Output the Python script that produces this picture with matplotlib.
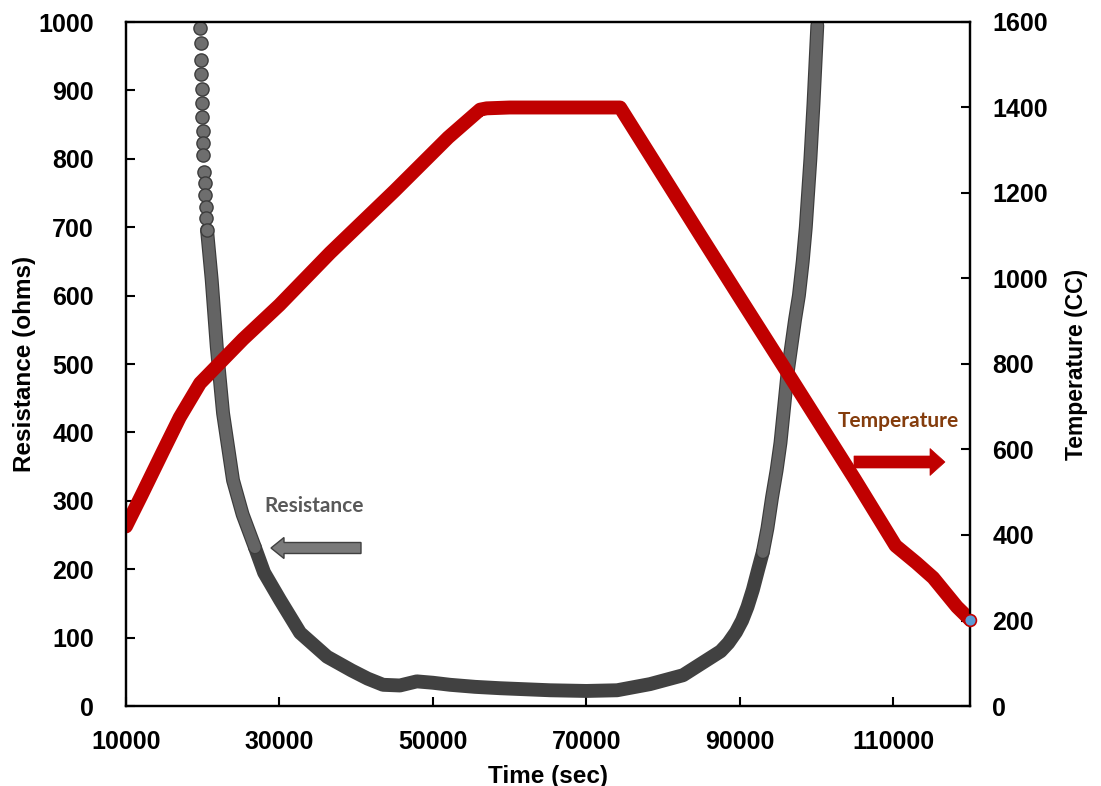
import numpy as np
import matplotlib
matplotlib.use('Agg')
import matplotlib.pyplot as plt
import matplotlib.patheffects as pe
from matplotlib.patches import FancyArrow

# Resistance readings (time in s, resistance in ohms)
res_time = [19690, 19740, 19780, 19820, 19870, 19910, 19950, 20000, 20040, 20080,
            20170, 20235, 20300, 20390, 20470, 20560, 21170, 21830, 22650, 23950,
            25200, 26800, 28000, 30080, 32690, 36210, 39400, 41500, 43500, 45700,
            47900, 50000, 52240, 55500, 58760, 65280, 70000, 74000, 78300, 82600,
            86100, 87500, 88500, 89500, 90300, 91000, 91700, 92400, 93000, 93600,
            94200, 94800, 95300, 95800, 96200, 96700, 97200, 97700, 98200, 98600,
            99200, 99600, 100100]
res_ohms = [991, 969, 944, 924, 902, 882, 861, 841, 823, 806,
            781, 765, 747, 730, 713, 696, 623, 525, 428, 330,
            280, 232, 195, 155, 107, 72, 52, 40, 31, 30,
            36, 34, 31, 28, 26, 23, 22, 23, 32, 45,
            70, 80, 92, 108, 125, 145, 170, 200, 225, 260,
            305, 345, 385, 440, 485, 525, 565, 600, 650, 700,
            800, 880, 995]

# Temperature readings (time in s, temperature in C)
temp_time = [10000, 12000, 14800, 17000, 19650, 25250, 30000, 36600, 45000, 52000,
             56150, 57000, 60000, 65000, 70000, 74400, 80000, 85000, 90000, 96200,
             100000, 105000, 110300, 113000, 115200, 118300, 120000]
temp_c = [420, 492, 595, 675, 755, 858, 938, 1060, 1205, 1330,
          1395, 1398, 1400, 1400, 1400, 1400, 1240, 1097, 955, 780,
          672, 530, 375, 335, 300, 232, 202]

x_ticks = [10000, 30000, 50000, 70000, 90000, 110000]

W, H = 1101, 786
fig = plt.figure(figsize=(W / 100, H / 100), dpi=100)
ax = fig.add_axes([126 / W, 1 - 706 / H, (970 - 126) / W, (706 - 22) / H])
ax2 = ax.twinx()

tick_font = {'family': 'Liberation Sans', 'weight': 'bold', 'size': 18}

res_time = np.array(res_time)
res_ohms = np.array(res_ohms)
n_sparse = 15            # first readings are single, well separated markers
left = res_time < 60000
gray_part = res_ohms >= 225

# band of overlapping gray circles (upper parts of both branches)
outline = [pe.Stroke(linewidth=10, foreground='#3c3c3c'), pe.Normal()]
for m in (left & gray_part, ~left & gray_part):
    idx = np.where(m)[0]
    idx = idx[idx >= n_sparse]
    ax.plot(res_time[idx], res_ohms[idx], color='#646464', lw=8.3,
            solid_capstyle='round', solid_joinstyle='round', zorder=2.5,
            path_effects=outline)
# dark dense band at low resistance (joined to the gray parts)
lo = np.where(~gray_part)[0]
lo = np.arange(lo[0] - 1, lo[-1] + 2)
ax.plot(res_time[lo], res_ohms[lo], color='#414141', lw=10,
        solid_capstyle='round', solid_joinstyle='round', zorder=2)
ax.plot(res_time[:n_sparse + 1], res_ohms[:n_sparse + 1], 'o', ms=9.5,
        mfc='#6e6e6e', mec='#3c3c3c', mew=1.0, zorder=3)

# temperature: thick red band
ax2.plot(temp_time, temp_c, color='#c00000', lw=10, solid_capstyle='round',
         solid_joinstyle='round', zorder=2)
ax2.plot(temp_time[-1], temp_c[-1], 'o', ms=8.5, mfc='#5b9bd5', mec='#c00000',
         mew=1.2, zorder=4, clip_on=False)

ax.set_xlim(10000, 120000)
ax.set_ylim(0, 1000)
ax2.set_ylim(0, 1600)
ax.set_xticks(x_ticks)
ax.set_yticks(range(0, 1001, 100))
ax2.set_yticks(range(0, 1601, 200))

for a in (ax, ax2):
    for s in a.spines.values():
        s.set_linewidth(1.6)
        s.set_color('black')
    a.tick_params(direction='in', length=6.5, width=1.5)
ax.tick_params(axis='y', left=True, right=False, pad=23)
ax.tick_params(axis='x', top=False, pad=17)
ax2.tick_params(axis='y', right=True, left=False, pad=16)

for lbl in ax.get_xticklabels() + ax.get_yticklabels() + ax2.get_yticklabels():
    lbl.set_fontproperties(tick_font)

label_font = {'family': 'Liberation Sans', 'weight': 'bold'}
ax.set_xlabel('Time (sec)', fontdict=label_font, fontsize=17.5, labelpad=8)
ax.set_ylabel('Resistance (ohms)', fontdict=label_font, fontsize=17.5, labelpad=2)
ax2.set_ylabel('Temperature (CC)', fontdict=label_font, fontsize=16.5, labelpad=12)

# annotation arrows and labels (figure pixel positions)
fig.text(314 / W, 1 - 506 / H, 'Resistance', family='Lato', weight='bold',
         fontsize=15, color='#595959', ha='center', va='center')
fig.patches.append(FancyArrow(361 / W, 1 - 548 / H, -(361 - 271) / W, 0,
                              width=11 / H, head_width=21 / H,
                              head_length=13 / W, length_includes_head=True,
                              fc='#7a7a7a', ec='#404040', lw=1.0,
                              transform=fig.transFigure, figure=fig))
fig.text(898 / W, 1 - 421 / H, 'Temperature', family='Lato', weight='bold',
         fontsize=15, color='#843c0c', ha='center', va='center')
fig.patches.append(FancyArrow(854 / W, 1 - 462 / H, (945 - 854) / W, 0,
                              width=12 / H, head_width=27 / H,
                              head_length=15 / W, length_includes_head=True,
                              fc='#c00000', ec='#c00000', lw=0.5,
                              transform=fig.transFigure, figure=fig))

fig.savefig('out.png', dpi=100)
